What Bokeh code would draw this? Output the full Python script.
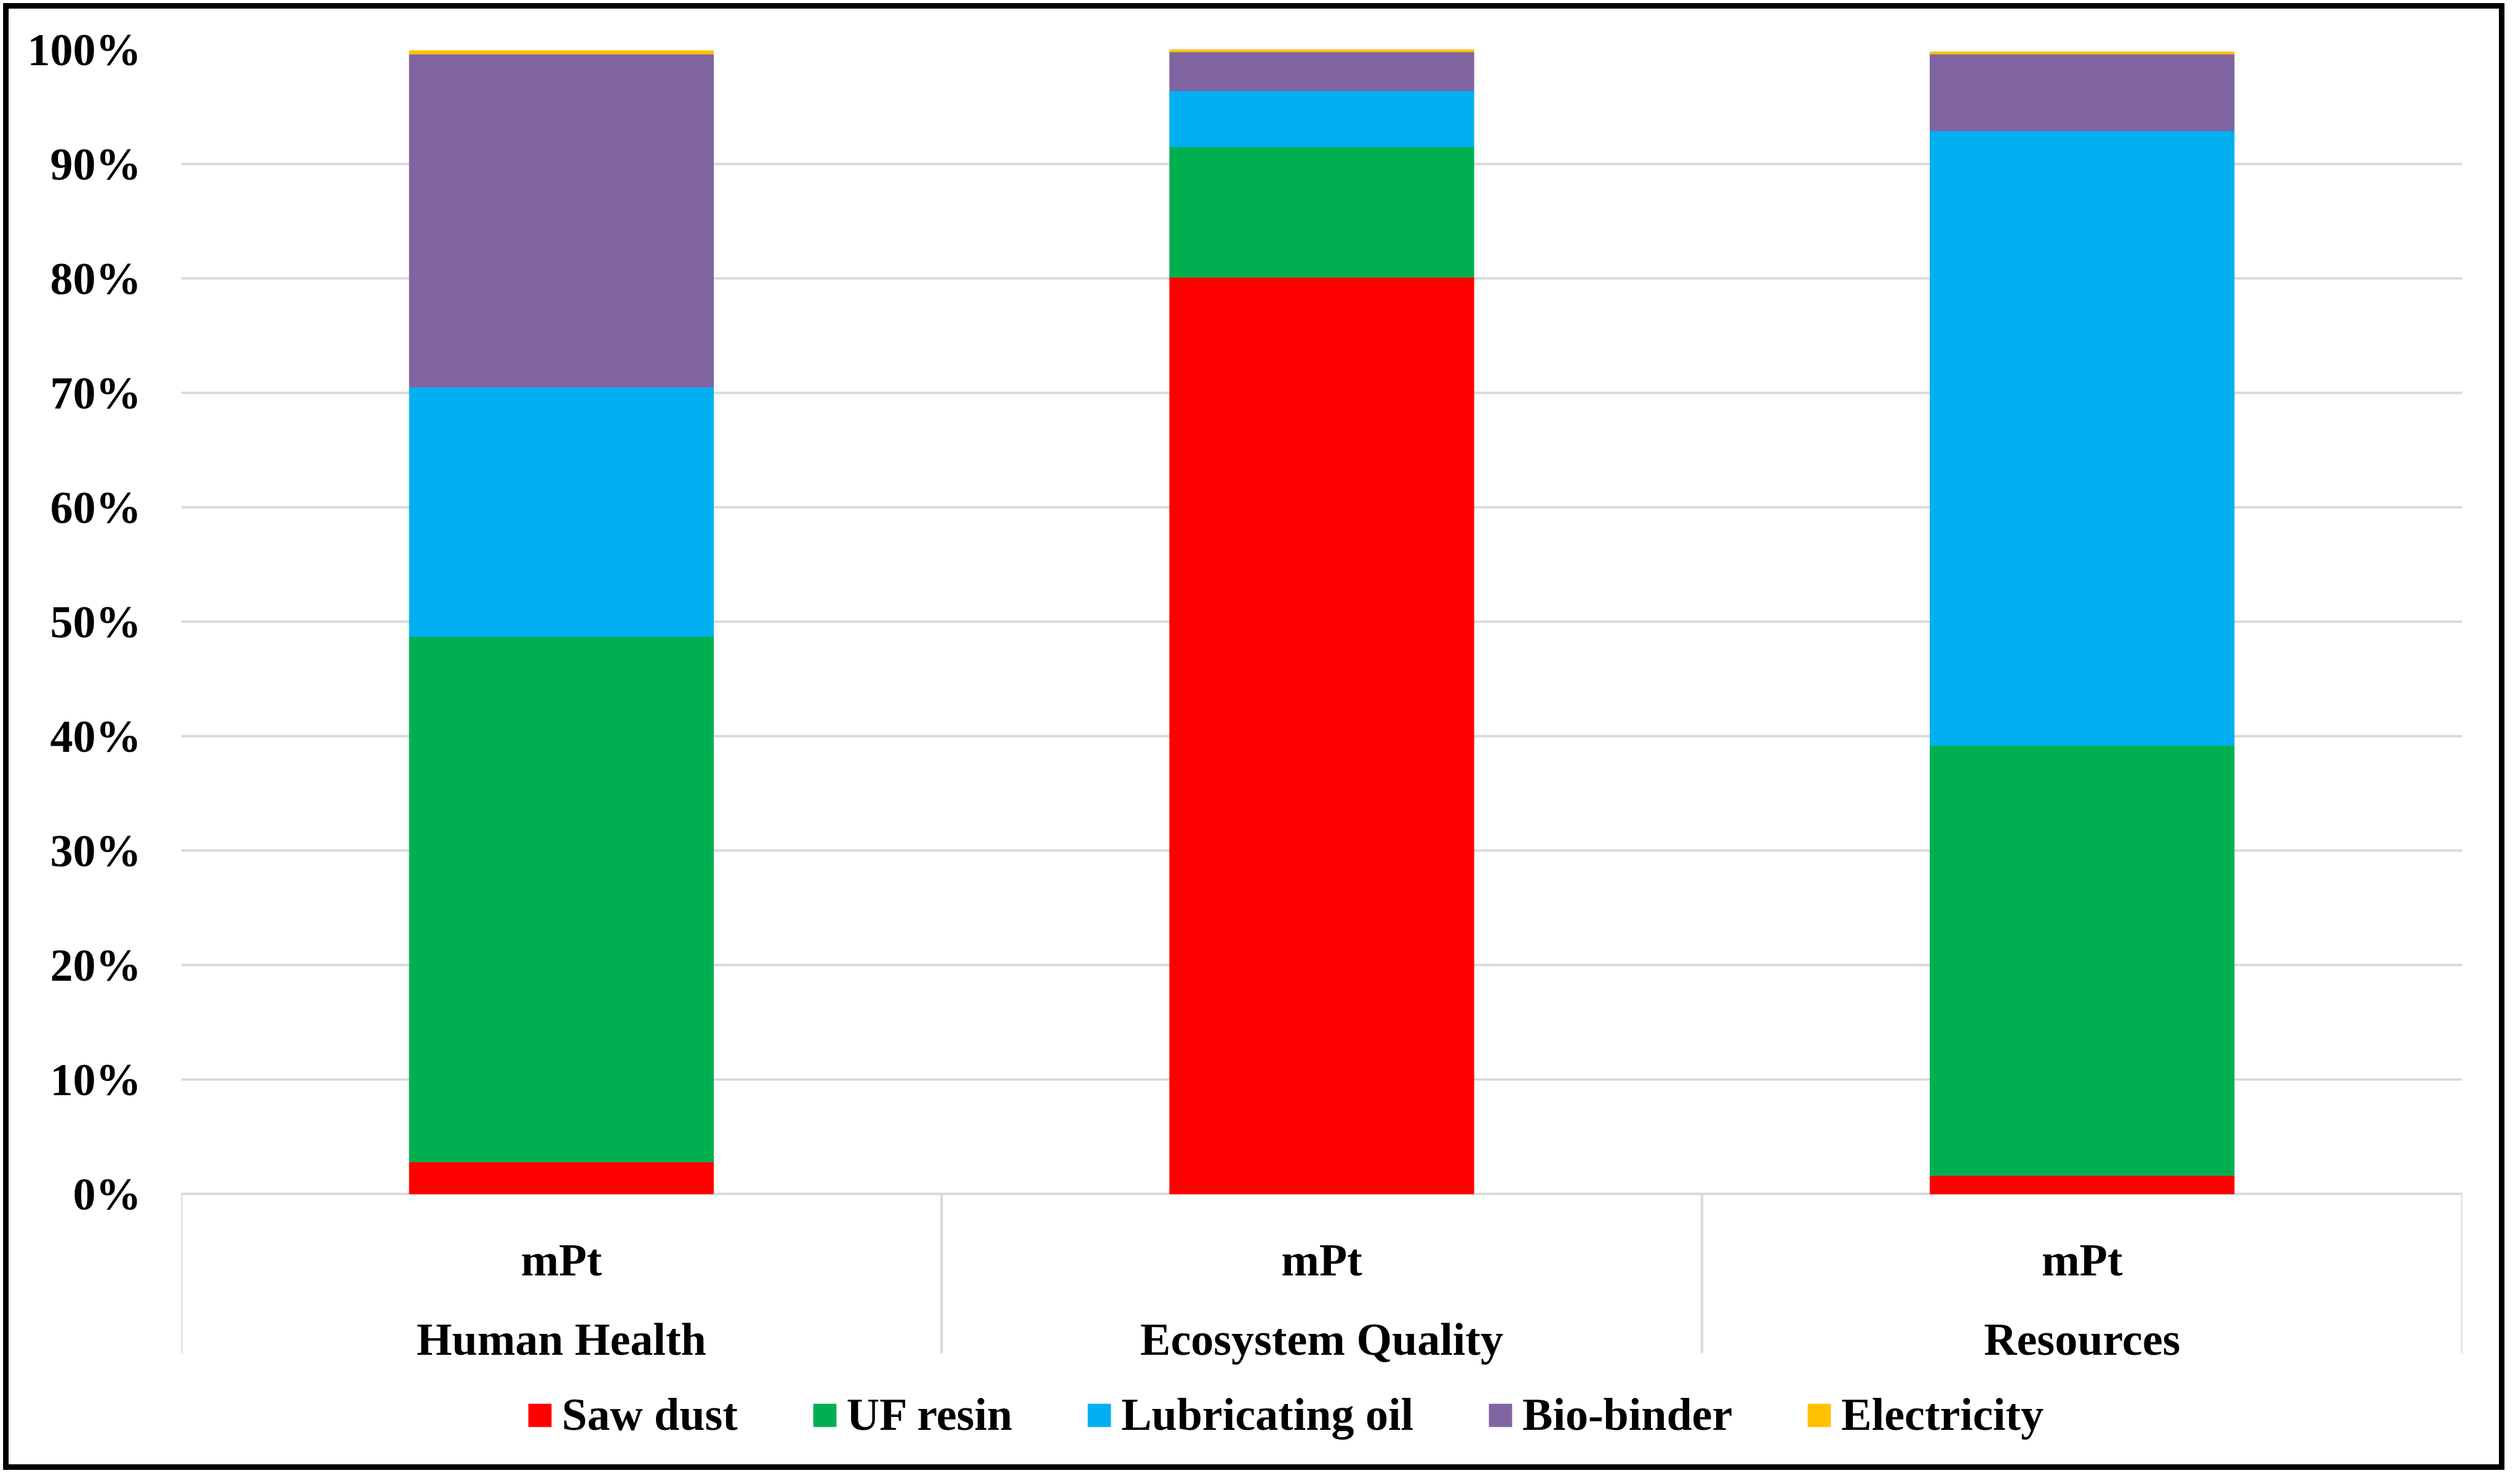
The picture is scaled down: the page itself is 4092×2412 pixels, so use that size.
from bokeh.plotting import figure
from bokeh.models import (FactorRange, Range1d, FixedTicker, NumeralTickFormatter,
                          ColumnDataSource, InlineStyleSheet)
from bokeh.core.properties import value
from bokeh.embed import file_html
from bokeh.resources import INLINE

# ---- data ----
categories = ["Human Health", "Ecosystem Quality", "Resources"]
unit_labels = ["mPt", "mPt", "mPt"]
series = ["Saw dust", "UF resin", "Lubricating oil", "Bio-binder", "Electricity"]
saw_dust = [2.8, 80.1, 1.6]
uf_resin = [45.9, 11.4, 37.6]
lubricating_oil = [21.8, 4.9, 53.7]
bio_binder = [29.1, 3.4, 6.7]
electricity = [0.3, 0.2, 0.2]
y_ticks = [i / 10 for i in range(11)]

colors = ["#FF0000", "#00B050", "#00B0F0", "#8064A2", "#FFC000"]
FONT = "Liberation Serif"
FS = "74px"

data = {"cat": categories}
for name, vals in zip(series, [saw_dust, uf_resin, lubricating_oil, bio_binder, electricity]):
    data[name] = [v / 100 for v in vals]
source = ColumnDataSource(data)

W, H = 4075, 2394
frame_left, frame_right = 294, 4001
frame_top, frame_bottom = 80, 2372
px_per_unit = 1860.0
y_start = -(frame_bottom - frame_top) / px_per_unit + 1.0

border_css = (
    ":host::after { content: ''; position: absolute; left: 5px; top: 5px; "
    "width: 4065px; height: 2384px; box-sizing: border-box; "
    "border: 9px solid black; pointer-events: none; z-index: 100; }"
)

p = figure(width=W, height=H, x_range=FactorRange(*categories, range_padding=0),
           y_range=Range1d(y_start, 1.0), output_backend="svg", toolbar_location=None,
           x_axis_location=None, y_axis_location="left",
           min_border_left=frame_left, min_border_right=W - frame_right,
           min_border_top=frame_top, min_border_bottom=H - frame_bottom,
           stylesheets=[InlineStyleSheet(css=border_css)])
p.outline_line_color = None
p.background_fill_color = "white"
p.border_fill_color = "white"

# y axis
yax = p.yaxis[0]
yax.ticker = FixedTicker(ticks=y_ticks)
yax.formatter = NumeralTickFormatter(format="0%")
yax.axis_line_color = None
yax.major_tick_line_color = None
yax.minor_tick_line_color = None
yax.major_tick_out = 0
yax.major_tick_in = 0
yax.minor_tick_out = 0
yax.major_label_standoff = 65
yax.major_label_text_font = FONT
yax.major_label_text_font_style = "bold"
yax.major_label_text_font_size = FS
yax.major_label_text_color = "black"

p.xgrid.visible = False
p.ygrid.grid_line_color = "#D9D9D9"
p.ygrid.grid_line_width = 4

# bars
p.vbar_stack(series, x="cat", width=0.4, color=colors, source=source,
             legend_label=series)

# category separators below the axis
bounds = list(range(len(categories) + 1))
sep_bottom = -(2207 - 1948) / px_per_unit
p.segment(x0=bounds, y0=[0] * len(bounds), x1=bounds, y1=[sep_bottom] * len(bounds),
          line_color="#D9D9D9", line_width=4)

# category labels
p.text(x=categories, y=[-(2055 - 1948) / px_per_unit] * 3, text=unit_labels,
       text_font=value(FONT), text_font_style="bold", text_font_size=FS,
       text_align="center", text_baseline="alphabetic", text_color="black")
p.text(x=categories, y=[-(2184 - 1948) / px_per_unit] * 3, text=categories,
       text_font=value(FONT), text_font_style="bold", text_font_size=FS,
       text_align="center", text_baseline="alphabetic", text_color="black")

# legend
lg = p.legend[0]
lg.orientation = "horizontal"
lg.location = (560, 30)
lg.glyph_width = 46
lg.glyph_height = 46
lg.label_standoff = 13
lg.spacing = 118
lg.padding = 0
lg.margin = 0
lg.border_line_color = None
lg.background_fill_alpha = 0
lg.label_text_font = FONT
lg.label_text_font_style = "bold"
lg.label_text_font_size = FS
lg.label_text_color = "black"

open("out.html", "w").write(file_html(p, INLINE))
